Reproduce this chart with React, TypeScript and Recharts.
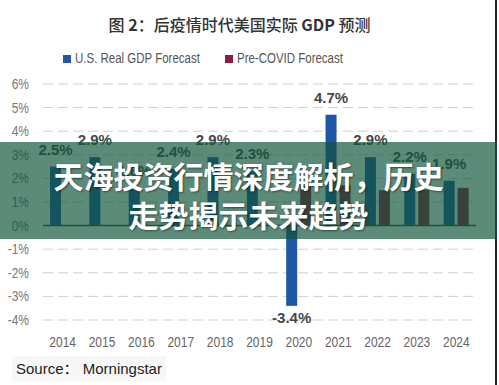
import React from 'react';
import { BarChart, Bar, XAxis, YAxis, CartesianGrid, ReferenceLine, LabelList } from 'recharts';

const years = ['2014', '2015', '2016', '2017', '2018', '2019', '2020', '2021', '2022', '2023', '2024'];
const usRealGdp = [2.5, 2.9, 1.6, 2.4, 2.9, 2.3, -3.4, 4.7, 2.9, 2.2, 1.9];
const preCovid: (number | null)[] = [null, null, null, null, null, null, 1.7, 1.7, 1.5, 1.5, 1.6];
const yTicks = [-4, -3, -2, -1, 0, 1, 2, 3, 4, 5, 6];

const data = years.map((y, i) => ({ year: y, us: usRealGdp[i], pre: preCovid[i] }));

const BLUE = '#1f56a6';
const RED = '#8e1b40';
const SANS = '"Liberation Sans", Arial, sans-serif';
const SQUEEZE = 0.8;

const ValueLabel = (props: any) => {
  const { x, y, width, height, value } = props;
  if (value === null || value === undefined) return null;
  const cx = Number(x) + Number(width) / 2;
  const top = Math.min(Number(y), Number(y) + Number(height));
  const bottom = Math.max(Number(y), Number(y) + Number(height));
  const isNeg = Number(value) < 0;
  return (
    <text
      x={cx}
      y={isNeg ? bottom + 17 : top - 12}
      textAnchor="middle"
      fill="#474747"
      fontSize={15}
      fontWeight="bold"
      fontFamily={SANS}
    >
      {`${Number(value).toFixed(1)}%`}
    </text>
  );
};

const XTick = (props: any) => {
  const { x, y, payload } = props;
  return (
    <g transform={`translate(${x},${y})`}>
      <text x={0} y={0} dy={13} textAnchor="middle" fill="#666" fontSize={15} fontFamily={SANS} transform={`scale(${SQUEEZE},1)`}>
        {payload.value}
      </text>
    </g>
  );
};

const YTick = (props: any) => {
  const { x, y, payload } = props;
  return (
    <g transform={`translate(${x},${y})`}>
      <text x={0} y={0} dy={5} textAnchor="end" fill="#777" fontSize={15} fontFamily={SANS} transform={`scale(${SQUEEZE},1)`}>
        {`${payload.value}%`}
      </text>
    </g>
  );
};

const legendText: React.CSSProperties = {
  position: 'absolute', top: 49, fontFamily: SANS, fontSize: 14, color: '#555', lineHeight: '18px',
  whiteSpace: 'nowrap', transform: `scaleX(${SQUEEZE + 0.02})`, transformOrigin: 'left center',
};

export default function App() {
  return (
    <div style={{ position: 'absolute', left: 0, top: 0, width: 499, height: 385, background: '#fff', overflow: 'hidden', fontFamily: SANS }}>
      <div style={{ position: 'absolute', left: 0, top: 12, width: 479, textAlign: 'center', fontFamily: '"Noto Sans CJK SC", sans-serif', fontSize: 16, fontWeight: 500, color: '#333', lineHeight: '24px' }}>
        图 <b>2</b>：后疫情时代美国实际 <b>GDP</b> 预测
      </div>
      <div style={{ position: 'absolute', left: 63, top: 55, width: 8, height: 8, background: BLUE }} />
      <div style={{ ...legendText, left: 75 }}>U.S. Real GDP Forecast</div>
      <div style={{ position: 'absolute', left: 225, top: 55, width: 8, height: 8, background: RED }} />
      <div style={{ ...legendText, left: 237 }}>Pre-COVID Forecast</div>

      <div style={{ position: 'absolute', left: 0, top: 0 }}>
        <BarChart width={499} height={385} data={data} margin={{ top: 84, right: 23, bottom: 35, left: 8 }} barSize={11} barGap={3}>
          <CartesianGrid vertical={false} stroke="#cfcfcf" strokeDasharray="10 5" />
          <XAxis dataKey="year" axisLine={false} tickLine={false} height={30} tickMargin={8} interval={0} tick={<XTick />} />
          <YAxis domain={[-4, 6]} ticks={yTicks} interval={0} width={35} axisLine={false} tickLine={false} tickMargin={8} tick={<YTick />} />
          <ReferenceLine y={0} stroke="#444" strokeWidth={1.5} />
          <Bar dataKey="us" fill={BLUE} isAnimationActive={false}>
            <LabelList dataKey="us" content={ValueLabel} />
          </Bar>
          <Bar dataKey="pre" fill={RED} isAnimationActive={false} />
        </BarChart>
      </div>

      <div style={{ position: 'absolute', left: 12, top: 356, padding: '1px 4px', background: '#f7f7f7', fontFamily: SANS, fontSize: 15, color: '#222', lineHeight: '22px', whiteSpace: 'nowrap' }}>
        Source<span style={{ fontFamily: '"Noto Sans CJK SC", sans-serif' }}>：</span> Morningstar
      </div>

      <div style={{ position: 'absolute', left: 495, top: 0, width: 2, height: 385, background: '#222' }} />

      <div style={{ position: 'absolute', left: 0, top: 142, width: 497, height: 97, background: 'rgba(15,84,57,0.68)' }} />
      <div style={{ position: 'absolute', left: 0, top: 156, width: 497, textAlign: 'center', fontFamily: '"Noto Sans CJK SC", sans-serif', fontSize: 30, fontWeight: 700, color: '#fff', lineHeight: '39px', textShadow: '1px 1px 2px rgba(0,0,0,0.45)' }}>
        天海投资行情深度解析，历史<br />走势揭示未来趋势
      </div>
    </div>
  );
}
